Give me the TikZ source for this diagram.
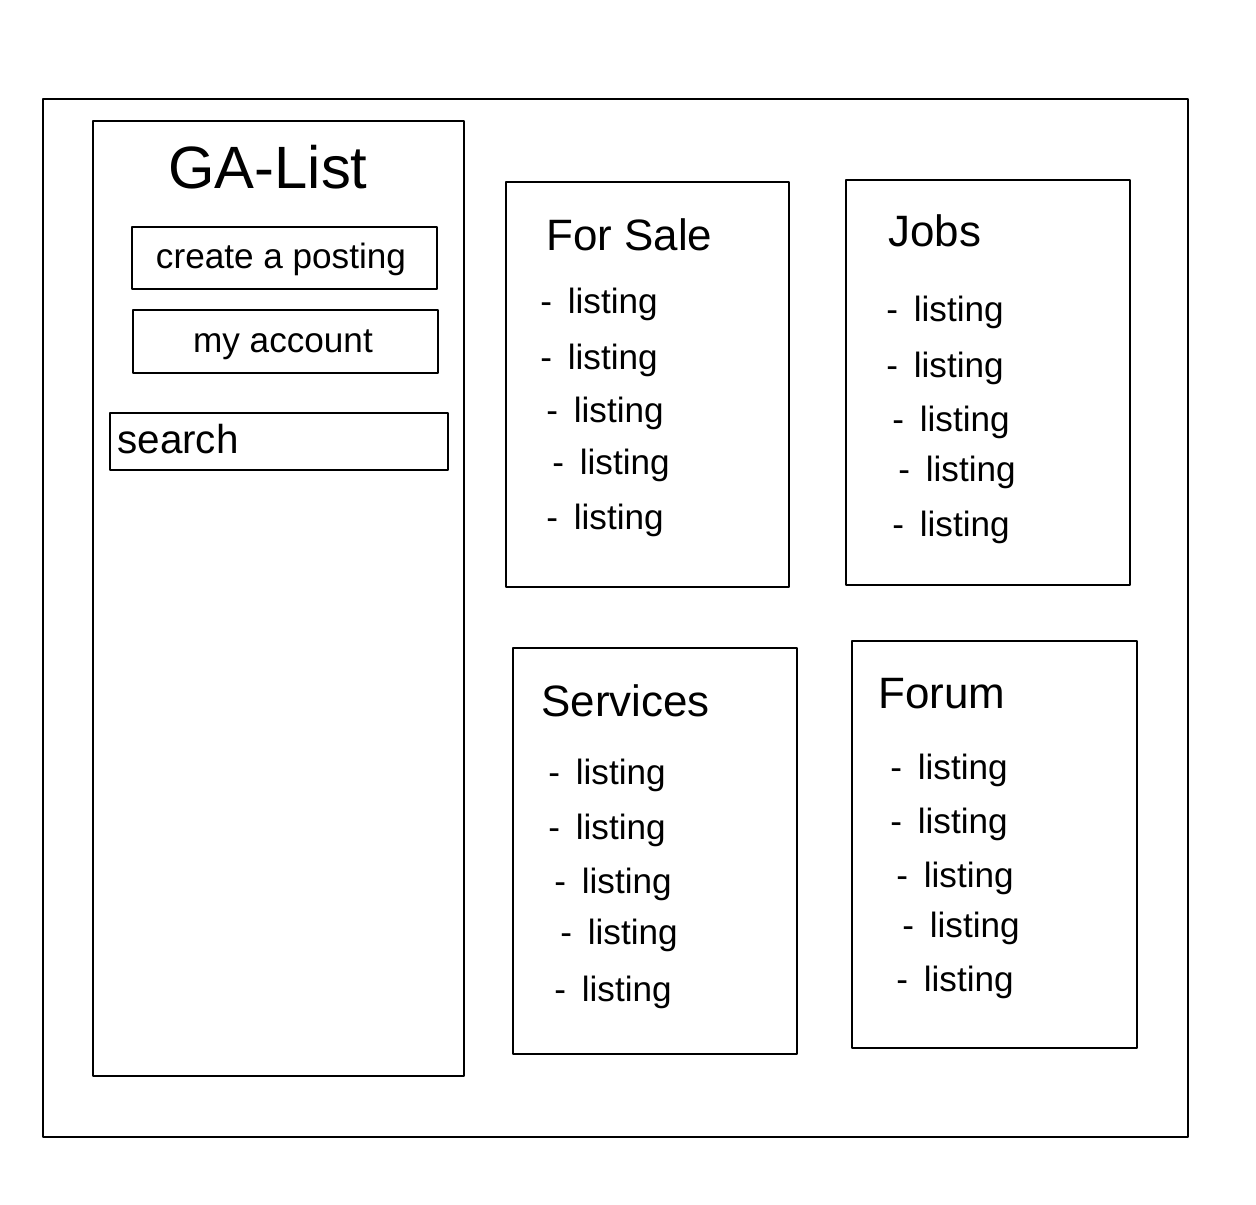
\documentclass[tikz,border=0pt]{standalone}
\usepackage{fontspec}
\setmainfont{Liberation Sans}

\begin{document}
\begin{tikzpicture}[x=0.02cm,y=-0.02cm,
  sketch/.style={draw,line width=1.3pt,line join=round},
  logo/.style={anchor=base,inner sep=0pt,font=\fontsize{34}{38}\selectfont},
  heading/.style={anchor=base west,inner sep=0pt,font=\fontsize{25}{30}\selectfont},
  button/.style={anchor=base,inner sep=0pt,font=\fontsize{20}{24}\selectfont},
  item/.style={anchor=base west,inner sep=0pt,font=\fontsize{20}{24}\selectfont}]
  \useasboundingbox (0,0) rectangle (1256,1204);
  \draw[sketch] (43,99) rectangle (1188,1137);
  \draw[sketch] (93,121) rectangle (464,1076);
  \draw[sketch] (132,227) rectangle (437,289);
  \draw[sketch] (133,310) rectangle (438,373);
  \draw[sketch] (110,413) rectangle (448,470);
  \foreach \xa/\ya/\xb/\yb in {506/182/789/587, 846/180/1130/585, 513/648/797/1054, 852/641/1137/1048}
    \draw[sketch] (\xa,\ya) rectangle (\xb,\yb);
  \node[logo] (title) at (268,188) {GA-List};
  \node[button] (create) at (281,268) {create a posting};
  \node[button] (account) at (283,352) {my account};
  \node[item,font=\fontsize{23}{28}\selectfont] (search) at (117,453) {search};
  \node[heading] (sale) at (546,250) {For Sale};
  \node[heading] (jobs) at (888,246) {Jobs};
  \node[heading] (services) at (541,716) {Services};
  \node[heading] (forum) at (878,708) {Forum};
  \foreach \dx/\by [count=\i] in {540/313, 540/369, 546/422, 552/474, 546/529}
    \node[item] (sale\i) at (\dx,\by) {-\hspace{9pt}listing};
  \foreach \dx/\by [count=\i] in {886/321, 886/377, 892/431, 898/481, 892/536}
    \node[item] (jobs\i) at (\dx,\by) {-\hspace{9pt}listing};
  \foreach \dx/\by [count=\i] in {548/784, 548/839, 554/893, 560/944, 554/1001}
    \node[item] (services\i) at (\dx,\by) {-\hspace{9pt}listing};
  \foreach \dx/\by [count=\i] in {890/779, 890/833, 896/887, 902/937, 896/991}
    \node[item] (forum\i) at (\dx,\by) {-\hspace{9pt}listing};
\end{tikzpicture}
\end{document}
